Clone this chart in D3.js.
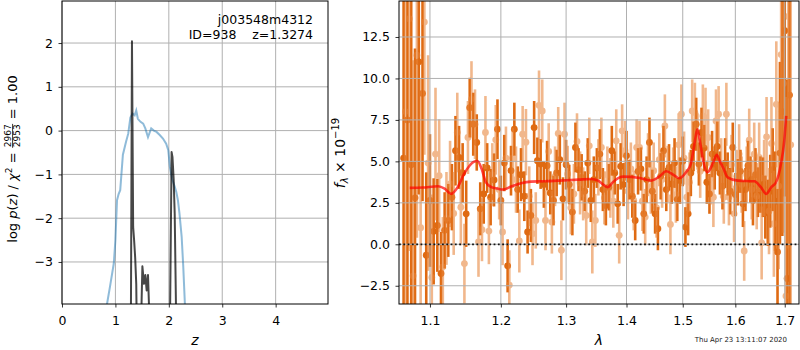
<!DOCTYPE html>
<html><head><meta charset="utf-8">
<script src="https://cdn.jsdelivr.net/npm/d3@7"></script>
<style>
body{margin:0;background:#fff}
svg{display:block}
text{font-family:"DejaVu Sans",sans-serif;white-space:pre}
</style>
</head><body>
<svg id="c" width="800" height="350"></svg>
<script>
// ---------------- data ----------------
const zTicks = [0, 1, 2, 3, 4];
const lnpTicks = [-3, -2, -1, 0, 1, 2];
const lamTicks = [1.1, 1.2, 1.3, 1.4, 1.5, 1.6, 1.7];
const fluxTicks = [-2.5, 0, 2.5, 5, 7.5, 10, 12.5];

// p(z) curves (left panel)
const zPrior = [0.78,0.843,0.90,0.97,1.00,1.03,1.06,1.09,1.14,1.20,1.24,1.28,1.32,1.36,1.39,1.42,1.47,1.52,1.56,1.61,1.67,1.72,1.77,1.83,1.89,1.95,1.99,2.02,2.06,2.11,2.14,2.17,2.20,2.24,2.27,2.30,2.33];
const lnpPrior = [-4.6,-3.96,-3.55,-3.03,-2.5,-1.59,-1.45,-1.36,-0.55,-0.25,-0.07,0.30,0.39,0.35,0.46,0.27,0.20,0.16,0.05,-0.15,0.05,0.0,-0.03,-0.10,-0.18,-0.30,-0.45,-0.83,-1.10,-1.28,-1.40,-1.59,-1.90,-2.42,-3.10,-3.94,-4.6];
const zPost = [1.270,1.288,1.310,1.332,1.350,1.370,1.390,1.405,1.440,1.470,1.505,1.535,1.560,1.585,1.610,1.640,1.670,2.000,2.017,2.052,2.068,2.090,2.110,2.145,2.170];
const lnpPost = [-6,-5,2.04,-2.2,-2.5,-2.9,-3.5,-5,-6,-5,-3.1,-3.5,-3.3,-3.65,-3.3,-4.4,-6,-6,-5,-0.49,-0.6,-1.1,-1.9,-5,-6];

// spectrum, grism series A (dark) and B (light), units 1e-19
const waveA = [
1.065,1.070,1.075,1.080,1.085,1.090,1.095,1.100,1.105,1.110,
1.115,1.120,1.125,1.130,1.135,1.140,1.145,1.150,1.155,1.160,
1.165,1.170,1.175,1.180,1.185,1.190,1.195,1.200,1.205,1.210,
1.215,1.220,1.225,1.230,1.235,1.240,1.245,1.250,1.255,1.260,
1.265,1.270,1.275,1.280,1.285,1.290,1.295,1.300,1.305,1.310,
1.315,1.320,1.325,1.330,1.335,1.340,1.345,1.350,1.355,1.360,
1.365,1.370,1.375,1.380,1.385,1.390,1.395,1.400,1.405,1.410,
1.415,1.420,1.425,1.430,1.435,1.440,1.445,1.450,1.455,1.460,
1.465,1.470,1.475,1.480,1.485,1.490,1.495,1.500,1.505,1.510,
1.515,1.520,1.525,1.530,1.535,1.540,1.545,1.550,1.555,1.560,
1.565,1.570,1.575,1.580,1.585,1.590,1.595,1.600,1.605,1.610,
1.615,1.620,1.625,1.630,1.635,1.640,1.645,1.650,1.655,1.660,
1.665,1.670,1.675,1.680,1.685,1.690,1.695,1.700,1.705,1.710];
const fluxA = [
5.2,7.5,4.8,2.8,11.0,9.1,-0.66,2.64,0.78,1.14,
-1.76,0.84,1.44,2.84,5.64,5.24,4.3,1.84,8.24,7.24,
6.14,2.14,3.04,4.6,2.84,3.88,6.94,2.64,4.9,-1.3,
4.44,6.94,3.3,4.2,2.9,0.74,1.74,7.04,5.04,4.84,
3.6,4.74,3.1,2.64,4.3,5.1,2.74,4.8,3.6,1.94,
5.84,4.5,4.04,3.2,4.9,2.64,3.9,4.6,5.44,3.3,
2.34,3.44,5.64,4.3,2.44,4.7,3.6,5.34,3.9,2.9,
1.44,4.4,4.54,1.84,3.9,6.14,3.2,1.84,0.94,4.1,
5.64,3.3,4.64,3.64,4.9,2.7,3.84,5.0,1.04,1.84,
4.3,5.9,7.24,4.84,6.74,5.8,3.74,3.04,5.44,4.6,
5.9,4.3,3.5,4.9,4.24,3.2,5.84,3.0,3.74,4.4,
2.44,3.3,4.74,3.9,2.64,4.2,3.14,3.6,3.44,2.24,
1.9,3.2,4.5,2.6,-0.46,5.5,8.0,12.88,-2.06,9.0];
const errA = [
14,12,11,9,8,6.5,5,4,3.2,2.8,
2.5,2.3,2.2,2.0,2.1,1.9,1.8,2.0,1.8,1.9,
1.7,1.6,1.8,1.5,1.7,1.6,1.8,1.5,1.7,1.6,
1.5,1.6,1.4,1.6,1.5,1.3,1.6,1.6,1.4,1.5,
1.4,1.5,1.3,1.5,1.4,1.5,1.3,1.5,1.2,1.4,
1.5,1.3,1.4,1.2,1.5,1.3,1.4,1.2,1.5,1.3,
1.2,1.4,1.5,1.3,1.2,1.4,1.3,1.5,1.2,1.3,
1.2,1.4,1.3,1.2,1.4,1.5,1.3,1.2,1.3,1.4,
1.5,1.3,1.4,1.2,1.5,1.3,1.4,1.5,1.2,1.3,
1.4,1.5,1.6,1.3,1.5,1.4,1.3,1.2,1.4,1.3,
1.5,1.3,1.4,1.5,1.3,1.4,1.5,1.3,1.4,1.3,
1.4,1.3,1.5,1.4,1.5,1.6,1.5,1.7,1.8,1.9,
2.0,2.2,2.5,3.0,3.8,5.5,7.5,10,12,14];

const waveB = [
1.0675,1.0725,1.0775,1.0825,1.0875,1.0925,1.0975,1.1025,1.1075,1.1125,
1.1175,1.1225,1.1275,1.1325,1.1375,1.1425,1.1475,1.1525,1.1575,1.1625,
1.1675,1.1725,1.1775,1.1825,1.1875,1.1925,1.1975,1.2025,1.2075,1.2125,
1.2175,1.2225,1.2275,1.2325,1.2375,1.2425,1.2475,1.2525,1.2575,1.2625,
1.2675,1.2725,1.2775,1.2825,1.2875,1.2925,1.2975,1.3025,1.3075,1.3125,
1.3175,1.3225,1.3275,1.3325,1.3375,1.3425,1.3475,1.3525,1.3575,1.3625,
1.3675,1.3725,1.3775,1.3825,1.3875,1.3925,1.3975,1.4025,1.4075,1.4125,
1.4175,1.4225,1.4275,1.4325,1.4375,1.4425,1.4475,1.4525,1.4575,1.4625,
1.4675,1.4725,1.4775,1.4825,1.4875,1.4925,1.4975,1.5025,1.5075,1.5125,
1.5175,1.5225,1.5275,1.5325,1.5375,1.5425,1.5475,1.5525,1.5575,1.5625,
1.5675,1.5725,1.5775,1.5825,1.5875,1.5925,1.5975,1.6025,1.6075,1.6125,
1.6175,1.6225,1.6275,1.6325,1.6375,1.6425,1.6475,1.6525,1.6575,1.6625,
1.6675,1.6725,1.6775,1.6825,1.6875,1.6925,1.6975,1.7025,1.7075,1.7125];
const fluxB = [
8.0,13.6,-1.9,11.4,1.0,13.4,4.9,-2.0,5.44,4.14,
-1.36,1.56,3.64,1.86,6.74,2.24,-1.16,6.44,8.74,7.24,
0.14,0.88,6.74,0.8,4.2,6.3,3.3,0.74,5.2,-2.46,
5.2,3.9,0.2,6.64,6.16,2.9,0.64,1.44,8.38,8.04,
1.44,5.6,1.34,4.1,6.68,-0.36,6.64,4.24,2.2,3.04,
6.2,3.7,3.04,1.74,5.94,0.14,1.44,4.64,5.84,2.8,
4.2,3.4,2.6,6.24,0.54,6.84,5.64,3.2,4.54,2.64,
5.84,5.84,2.6,1.64,4.8,3.44,4.44,2.2,5.1,3.9,
7.14,4.24,1.2,4.24,3.0,6.0,7.84,5.2,2.84,3.74,
8.04,7.94,6.2,4.4,7.74,7.64,6.44,4.0,2.84,7.44,
7.84,4.6,2.84,7.84,2.84,4.8,1.84,4.1,5.44,3.6,
-0.4,4.2,6.28,3.3,5.44,2.9,5.24,0.08,4.0,6.48,
2.0,6.08,1.24,8.44,3.5,11.44,9.7,-3.12,13.74,6.0];
const errB = [
16,14,13,11,9,8,6.5,5,4.0,3.4,
3.0,2.8,2.6,2.5,2.4,2.3,2.4,2.2,2.3,2.1,
2.1,1.9,2.2,2.0,1.9,2.1,1.8,2.0,1.9,2.1,
1.8,2.0,1.9,1.7,2.0,1.8,1.9,1.7,2.1,1.9,
1.8,1.7,1.9,1.8,1.6,1.8,1.9,1.7,1.6,1.8,
1.7,1.9,1.6,1.8,1.7,1.9,1.6,1.7,1.8,1.6,
1.7,1.8,1.6,1.9,1.7,1.6,1.8,1.7,1.6,1.8,
1.7,1.6,1.8,1.7,1.9,1.6,1.7,1.8,1.6,1.7,
1.9,1.7,1.8,1.6,1.7,1.9,1.8,1.6,1.7,1.8,
1.9,1.8,1.7,1.6,1.9,1.8,1.7,1.6,1.8,1.9,
1.7,1.8,1.6,1.9,1.7,1.8,1.7,1.6,1.8,1.7,
1.8,1.7,1.9,1.8,1.9,2.0,2.1,2.2,2.3,2.4,
2.6,2.8,3.2,3.8,5.0,6.5,9,12,14,16];

// best-fit model
const modelWave = [1.073,1.090,1.111,1.120,1.129,1.138,1.147,1.155,1.160,1.166,1.172,1.178,1.186,1.195,1.203,1.215,1.230,1.245,1.266,1.290,1.320,1.341,1.352,1.360,1.368,1.376,1.385,1.394,1.423,1.443,1.458,1.470,1.485,1.494,1.506,1.515,1.521,1.527,1.532,1.537,1.546,1.556,1.564,1.570,1.576,1.585,1.605,1.638,1.651,1.662,1.672,1.682,1.692,1.699,1.703];
const modelFlux = [3.40,3.42,3.50,3.35,3.04,3.44,4.24,4.75,4.95,5.02,4.55,3.75,3.45,3.36,3.30,3.48,3.68,3.78,3.80,3.84,3.90,3.94,3.84,3.62,3.44,3.72,3.98,4.08,4.00,3.84,4.10,4.40,4.14,3.98,4.34,4.85,5.9,6.94,6.2,5.24,4.34,4.84,5.40,5.00,4.64,4.04,3.84,3.80,3.44,3.04,3.44,3.74,4.84,6.24,7.74];

const titleLines = ["j003548m4312", "ID=938    z=1.3274"];
const stamp = "Thu Apr 23 13:11:07 2020";

// ---------------- drawing ----------------
const svg = d3.select('#c');
const FONT = '12.5px';
const GRID = '#b0b0b0';

const xL = d3.scaleLinear().domain([0, 4.98]).range([62, 328]);
const yL = d3.scaleLinear().domain([-3.96, 2.96]).range([304, 1]);
const xR = d3.scaleLog().domain([1.059, 1.730]).range([399, 799]);
const yR = d3.scaleLinear().domain([-3.60, 14.67]).range([304, 1]);

const defs = svg.append('defs');
defs.append('clipPath').attr('id','clipL').append('rect').attr('x',62).attr('y',1).attr('width',266).attr('height',303);
defs.append('clipPath').attr('id','clipR').append('rect').attr('x',399).attr('y',1).attr('width',400).attr('height',303);

function grid(g, xs, ys, xt, yt) {
  const [x0, x1] = xs.range(), [y0, y1] = ys.range();
  g.selectAll('line.gx').data(xt).join('line').attr('class','gx')
    .attr('x1', d => xs(d)).attr('x2', d => xs(d)).attr('y1', y0).attr('y2', y1)
    .attr('stroke', GRID).attr('stroke-width', 1);
  g.selectAll('line.gy').data(yt).join('line').attr('class','gy')
    .attr('y1', d => ys(d)).attr('y2', d => ys(d)).attr('x1', x0).attr('x2', x1)
    .attr('stroke', GRID).attr('stroke-width', 1);
}
function axes(xs, ys, xt, yt, xf, yf) {
  const [x0, x1] = xs.range(), [y0, y1] = ys.range();
  const gx = svg.append('g').attr('transform', `translate(0,${y0})`)
    .call(d3.axisBottom(xs).tickValues(xt).tickFormat(xf).tickSize(3.5).tickPadding(9));
  const gy = svg.append('g').attr('transform', `translate(${x0},0)`)
    .call(d3.axisLeft(ys).tickValues(yt).tickFormat(yf).tickSize(3.5).tickPadding(5.5));
  [gx, gy].forEach(g => {
    g.select('.domain').remove();
    g.selectAll('line').attr('stroke', '#000').attr('stroke-width', 0.8);
    g.selectAll('text').style('font-size', FONT).style('font-family', '"DejaVu Sans"').attr('fill', '#000');
  });
  svg.append('rect').attr('x', x0).attr('y', y1).attr('width', x1 - x0).attr('height', y0 - y1)
    .attr('fill', 'none').attr('stroke', '#000').attr('stroke-width', 1);
}

// ----- left panel -----
const gL = svg.append('g');
grid(gL, xL, yL, zTicks, lnpTicks);
const pL = gL.append('g').attr('clip-path', 'url(#clipL)');
const lineL = d3.line().x(d => xL(d[0])).y(d => yL(d[1]));
pL.append('path').datum(d3.zip(zPrior, lnpPrior)).attr('d', lineL)
  .attr('fill', 'none').attr('stroke', '#1f77b4').attr('stroke-opacity', 0.5).attr('stroke-width', 2);
pL.append('path').datum(d3.zip(zPost, lnpPost)).attr('d', lineL)
  .attr('fill', 'none').attr('stroke', '#000').attr('stroke-opacity', 0.72).attr('stroke-width', 2)
  .attr('stroke-linejoin', 'round');
axes(xL, yL, zTicks, lnpTicks, d3.format('d'), d3.format('d'));

svg.append('text').attr('x', 313).attr('y', 24).attr('text-anchor', 'end').style('font-size', FONT).text(titleLines[0]);
svg.append('text').attr('x', 313).attr('y', 39).attr('text-anchor', 'end').style('font-size', FONT).text(titleLines[1]);

svg.append('text').attr('x', xL(2.49)).attr('y', 345).attr('text-anchor', 'middle')
  .style('font-size', '14px').style('font-style', 'italic').text('z');

// left y label
{
  const fs = 13;
  const outer = svg.append('g').attr('transform', 'translate(17,159) rotate(-90)');
  const inner = outer.append('g');
  const t1 = inner.append('text').attr('x', 0).attr('y', 0).style('font-size', fs + 'px');
  t1.append('tspan').text('log ');
  t1.append('tspan').style('font-style', 'italic').text('p');
  t1.append('tspan').text('(');
  t1.append('tspan').style('font-style', 'italic').text('z');
  t1.append('tspan').text(') / ');
  t1.append('tspan').style('font-style', 'italic').text('χ');
  t1.append('tspan').attr('dy', -5).style('font-size', '9px').text('2');
  t1.append('tspan').attr('dy', 5).text(' = ');
  const w1 = t1.node().getComputedTextLength();
  const num = inner.append('text').attr('y', -6).attr('text-anchor', 'middle').style('font-size', '9px').text('2967');
  const fw = num.node().getComputedTextLength();
  const cx = w1 + 1 + fw / 2;
  num.attr('x', cx);
  inner.append('text').attr('x', cx).attr('y', 3).attr('text-anchor', 'middle').style('font-size', '9px').text('2953');
  inner.append('line').attr('x1', w1 + 0.5).attr('x2', w1 + 1.5 + fw).attr('y1', -4.4).attr('y2', -4.4)
    .attr('stroke', '#000').attr('stroke-width', 0.8);
  const t3 = inner.append('text').attr('x', w1 + 2 + fw).attr('y', 0).style('font-size', fs + 'px').text(' = 1.00');
  const w3 = t3.node().getComputedTextLength();
  inner.attr('transform', `translate(${-(w1 + 2 + fw + w3) / 2},0)`);
}

// ----- right panel -----
const gR = svg.append('g');
const pR = gR.append('g').attr('clip-path', 'url(#clipR)');
const dark = '#df6a12', light = '#e8853a';
function series(g, wave, flux, err, color, op, rad) {
  const pts = d3.range(wave.length).map(i => ({w: wave[i], f: flux[i], e: err[i]}));
  const s = g.append('g').attr('opacity', op);
  s.selectAll('line').data(pts).join('line')
    .attr('x1', d => xR(d.w)).attr('x2', d => xR(d.w))
    .attr('y1', d => yR(d.f - d.e)).attr('y2', d => yR(d.f + d.e))
    .attr('stroke', color).attr('stroke-width', 2.6);
  s.selectAll('circle').data(pts).join('circle')
    .attr('cx', d => xR(d.w)).attr('cy', d => yR(d.f)).attr('r', rad).attr('fill', color);
}
series(pR, waveA, fluxA, errA, dark, 1, 3.4);
series(pR, waveB, fluxB, errB, light, 0.58, 3.4);
const gGrid = gR.append('g');
grid(gGrid, xR, yR, lamTicks, fluxTicks);
gR.append('line').attr('x1', 399).attr('x2', 799).attr('y1', yR(0)).attr('y2', yR(0))
  .attr('stroke', '#000').attr('stroke-width', 1.8).attr('stroke-dasharray', '1.8,2.5').attr('opacity', 0.9);
gR.append('g').attr('clip-path', 'url(#clipR)').append('path')
  .datum(d3.zip(modelWave, modelFlux))
  .attr('d', d3.line().x(d => xR(d[0])).y(d => yR(d[1])).curve(d3.curveMonotoneX))
  .attr('fill', 'none').attr('stroke', '#ff0000').attr('stroke-opacity', 0.7).attr('stroke-width', 2.6);
axes(xR, yR, lamTicks, fluxTicks, d3.format('.1f'), d3.format('.1f'));

svg.append('text').attr('x', 599).attr('y', 345).attr('text-anchor', 'middle')
  .style('font-size', '14px').style('font-style', 'italic').text('λ');

{
  const rt = svg.append('g').attr('transform', 'translate(345,153) rotate(-90)')
    .append('text').attr('text-anchor', 'middle').style('font-size', '14px');
  rt.append('tspan').style('font-style', 'italic').text('f');
  rt.append('tspan').style('font-style', 'italic').attr('dy', 3).style('font-size', '10px').text('λ');
  rt.append('tspan').attr('dy', -3).text(' × 10');
  rt.append('tspan').attr('dy', -6).style('font-size', '10px').text('−19');
}

svg.append('text').attr('x', 787).attr('y', 341.5).attr('text-anchor', 'end')
  .style('font-size', '7px').attr('fill', '#222').text(stamp);
</script>
</body></html>
